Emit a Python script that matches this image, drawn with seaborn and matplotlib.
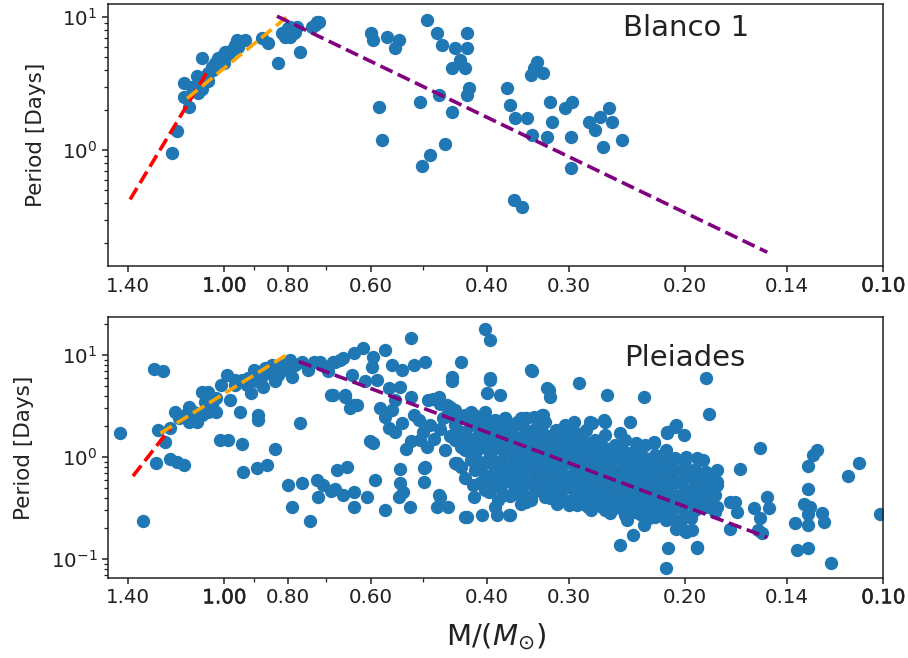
import matplotlib
matplotlib.use("Agg")
import matplotlib.pyplot as plt
import matplotlib.patheffects as pe
import pandas as pd
import seaborn as sns

# tick marks on the mass axis
mass_ticks = [1.40, 1.00, 0.80, 0.60, 0.40, 0.30, 0.20, 0.14, 0.10]
mass_tick_labels = ["1.40", "1.00", "0.80", "0.60", "0.40", "0.30", "0.20", "0.14", "0.10"]

# Blanco 1 rotators (mass, period in days)
blanco_stars = [
    (1.20, 0.95), (1.18, 1.4), (1.13, 2.1), (1.15, 2.5), (1.15, 3.2), (1.10, 3.6),
    (1.08, 2.9), (1.095, 2.67), (1.114, 2.83), (1.057, 3.79), (1.033, 4.5), (1.083, 4.91),
    (1.021, 4.91), (0.998, 5.5), (0.975, 5.67), (0.958, 6.74), (0.930, 6.74), (0.952, 6.0),
    (1.0, 4.5), (1.045, 4.24), (1.070, 3.57), (0.986, 5.2), (1.01, 5.0), (1.04, 4.0),
    (0.965, 6.2), (1.12, 3.0), (1.06, 3.3), (0.878, 6.95), (0.858, 6.37), (0.828, 4.5),
    (0.818, 7.57), (0.795, 7.14), (0.781, 7.79), (0.768, 5.5), (0.777, 8.5), (0.737, 8.5),
    (0.724, 9.27), (0.80, 8.3), (0.809, 7.14), (0.794, 8.5), (0.785, 7.57), (0.728, 8.8),
    (0.719, 9.3),
    (0.60, 7.57), (0.594, 6.74), (0.567, 7.14), (0.544, 6.74), (0.550, 5.84), (0.583, 2.12),
    (0.577, 1.19), (0.493, 9.55), (0.476, 7.57), (0.468, 6.19), (0.428, 7.57), (0.446, 5.84),
    (0.428, 5.84), (0.439, 4.77), (0.451, 4.13), (0.431, 4.13), (0.426, 2.92), (0.428, 2.6),
    (0.473, 2.6), (0.504, 2.31), (0.451, 1.94), (0.462, 1.12), (0.487, 0.917), (0.501, 0.762),
    (0.373, 2.92), (0.368, 2.18), (0.362, 1.73), (0.347, 1.73), (0.341, 1.30), (0.343, 3.67),
    (0.335, 4.63), (0.339, 4.13), (0.328, 3.79), (0.324, 1.26), (0.320, 2.31), (0.318, 1.63),
    (0.304, 2.06), (0.297, 2.31), (0.298, 1.26), (0.298, 0.728), (0.364, 0.42), (0.353, 0.374),
    (0.280, 1.63), (0.274, 1.41), (0.269, 1.78), (0.261, 2.06), (0.258, 1.63), (0.266, 1.06),
    (0.249, 1.19),
]

# Pleiades rotators, high mass part
pleiades_hi = [
    (1.44, 1.71), (1.33, 0.236), (1.28, 7.3), (1.24, 6.9), (1.27, 0.88), (1.26, 1.84),
    (1.23, 1.41), (1.21, 0.95), (1.18, 0.90), (1.15, 0.835), (1.19, 2.78), (1.17, 2.40),
    (1.13, 3.12), (1.13, 2.22), (1.10, 2.22), (1.08, 4.38), (1.07, 3.49), (1.06, 2.78),
    (1.045, 3.24), (1.03, 3.77), (0.99, 6.37), (1.01, 5.08), (0.98, 3.63), (0.963, 5.69),
    (0.94, 5.69), (0.92, 5.9), (0.90, 7.1), (0.88, 5.9), (0.873, 4.9), (0.91, 4.2),
    (0.947, 2.78), (0.888, 2.58), (0.888, 2.31), (1.015, 1.47), (0.986, 1.47), (0.94, 1.34),
    (0.936, 0.707), (0.893, 0.774), (0.862, 0.835), (0.838, 1.19), (0.848, 7.98), (0.819, 7.98),
    (0.828, 6.37), (0.795, 8.94), (0.79, 6.14), (0.768, 2.14), (0.80, 0.531), (0.763, 0.55),
    (0.79, 0.32), (0.741, 0.236), (0.724, 0.595), (0.72, 0.408), (0.708, 0.531), (0.688, 0.465),
    (0.69, 4.06), (0.746, 7.12), (0.763, 8.6), (0.73, 8.6), (0.712, 7.98), (0.695, 6.9),
    (0.68, 8.6), (0.838, 5.5), (0.857, 6.6), (0.819, 6.9), (1.06, 4.38), (1.11, 2.78),
    (1.147, 2.58), (1.08, 2.58), (1.03, 2.78), (0.963, 5.08), (0.925, 5.08), (0.893, 5.5),
    (0.867, 7.4), (0.80, 7.4), (0.78, 7.98), (1.114, 2.40), (1.21, 1.91),
]

# Pleiades, 0.35 - 0.70 Msun
pleiades_mid = [
    (0.52, 14.8), (0.402, 18.0), (0.395, 14.1), (0.683, 8.6), (0.66, 9.3), (0.636, 10.4),
    (0.615, 11.7), (0.594, 9.6), (0.57, 11.2), (0.597, 7.7), (0.557, 7.98), (0.537, 7.1),
    (0.516, 7.98), (0.496, 8.6), (0.438, 8.6), (0.343, 7.1), (0.64, 6.37), (0.611, 5.5),
    (0.587, 5.69), (0.563, 4.73), (0.541, 4.9), (0.52, 3.9), (0.49, 3.63), (0.472, 3.9),
    (0.459, 3.24), (0.451, 6.14), (0.451, 5.5), (0.395, 5.9), (0.40, 4.2), (0.381, 4.06),
    (0.683, 4.06), (0.655, 4.06), (0.636, 3.24), (0.58, 3.0), (0.557, 2.89), (0.55, 3.63),
    (0.57, 2.49), (0.563, 1.91), (0.537, 2.14), (0.507, 2.31), (0.487, 2.06), (0.446, 2.22),
    (0.44, 1.77), (0.428, 1.47), (0.418, 2.58), (0.411, 2.14), (0.404, 1.64), (0.423, 1.09),
    (0.41, 0.90), (0.397, 0.90), (0.601, 1.44), (0.594, 1.36), (0.52, 1.44), (0.504, 1.47),
    (0.493, 1.26), (0.462, 1.17), (0.444, 0.85), (0.375, 2.31), (0.36, 2.22), (0.368, 1.77),
    (0.386, 1.31), (0.373, 1.13), (0.355, 0.97), (0.675, 0.746), (0.651, 0.80), (0.679, 0.49),
    (0.66, 0.424), (0.636, 0.456), (0.636, 0.325), (0.607, 0.408), (0.59, 0.595), (0.57, 0.302),
    (0.541, 0.763), (0.541, 0.55), (0.535, 0.456), (0.544, 0.408), (0.522, 0.325), (0.498, 0.774),
    (0.498, 0.573), (0.472, 0.424), (0.475, 0.32), (0.457, 0.32), (0.428, 0.26), (0.42, 0.531),
    (0.409, 0.55), (0.418, 0.408), (0.406, 0.27), (0.397, 0.456), (0.384, 0.378), (0.386, 0.27),
    (0.368, 0.27), (0.355, 0.531), (0.353, 0.393), (0.411, 0.774), (0.402, 0.666),
    (0.667, 8.94), (0.715, 8.6), (0.644, 3.0), (0.628, 3.2), (0.655, 3.9), (0.55, 1.77),
    (0.496, 0.80), (0.47, 0.41), (0.482, 3.7), (0.47, 3.3), (0.459, 2.6), (0.395, 5.69),
    (0.47, 1.9), (0.455, 1.6), (0.48, 1.5), (0.465, 2.4), (0.50, 1.75), (0.43, 1.25),
    (0.515, 2.6), (0.53, 1.2),
]

# Pleiades, 0.18 - 0.35 Msun outskirts of the main clump
pleiades_low = [
    (0.341, 6.99), (0.322, 4.54), (0.32, 3.9), (0.29, 5.28), (0.263, 4.06), (0.231, 3.9),
    (0.242, 2.22), (0.348, 2.40), (0.33, 2.58), (0.297, 2.06), (0.279, 2.22), (0.264, 2.22),
    (0.251, 1.71), (0.213, 1.77), (0.206, 2.06), (0.201, 1.64), (0.223, 1.41), (0.237, 1.36),
    (0.313, 0.35), (0.30, 0.338), (0.29, 0.364), (0.278, 0.302), (0.267, 0.35), (0.348, 0.364),
    (0.324, 0.49), (0.285, 0.474), (0.251, 0.137), (0.24, 0.172), (0.231, 0.215), (0.212, 0.127),
    (0.214, 0.082), (0.206, 0.199), (0.199, 0.185), (0.192, 0.127), (0.245, 0.27), (0.223, 0.27),
    (0.324, 4.73),
    (0.454, 3.1), (0.423, 2.78), (0.404, 2.49), (0.375, 2.40), (0.355, 2.40), (0.339, 2.49),
    (0.328, 2.58), (0.30, 1.98), (0.295, 2.22), (0.277, 2.14), (0.265, 2.31), (0.213, 1.71),
    (0.207, 1.98), (0.223, 1.36), (0.443, 0.867), (0.431, 0.259), (0.388, 0.325), (0.37, 0.27),
    (0.355, 0.35), (0.343, 0.378), (0.292, 0.338), (0.281, 0.325), (0.275, 0.378), (0.267, 0.325),
    (0.245, 0.241), (0.227, 0.25), (0.214, 0.241), (0.203, 0.241), (0.201, 0.192), (0.195, 0.192),
    (0.185, 0.35), (0.179, 0.57), (0.193, 0.746), (0.199, 1.0), (0.188, 0.935), (0.183, 0.64),
]

# Pleiades, very low mass tail
pleiades_tail = [
    (0.186, 5.9), (0.184, 2.62), (0.154, 1.23), (0.165, 0.763), (0.126, 1.17), (0.128, 1.05),
    (0.13, 0.82), (0.109, 0.88), (0.113, 0.655), (0.13, 0.485), (0.101, 0.274), (0.132, 0.35),
    (0.129, 0.32), (0.13, 0.274), (0.13, 0.215), (0.136, 0.224), (0.124, 0.28), (0.123, 0.231),
    (0.135, 0.122), (0.13, 0.127), (0.12, 0.092), (0.15, 0.408), (0.149, 0.313), (0.157, 0.313),
    (0.154, 0.25), (0.155, 0.192), (0.153, 0.178), (0.167, 0.29), (0.171, 0.199), (0.168, 0.364),
    (0.171, 0.364), (0.179, 0.746), (0.179, 0.531), (0.186, 0.717), (0.192, 0.97), (0.194, 0.717),
    (0.194, 0.456), (0.192, 0.35), (0.186, 0.325), (0.179, 0.325), (0.196, 0.25), (0.192, 0.132),
]

# Pleiades dense clump along the slow sequence: mass -> periods
pleiades_clump = [
    (0.446, [2.89, 2.06, 1.47, 0.87]),
    (0.438, [2.41, 1.76, 1.25, 0.80]),
    (0.431, [2.58, 1.76, 1.17, 0.622]),
    (0.423, [2.06, 1.37, 0.935]),
    (0.416, [2.31, 1.54, 1.05, 0.746]),
    (0.409, [1.84, 1.23, 0.835, 0.56]),
    (0.402, [2.77, 1.93, 1.31, 0.893, 0.474]),
    (0.395, [2.06, 1.47, 1.05, 0.62]),
    (0.388, [2.31, 1.72, 1.23, 0.746, 0.531]),
    (0.381, [2.11, 1.61, 1.23, 0.913, 0.681, 0.496]),
    (0.375, [2.41, 1.84, 1.40, 1.05, 0.78, 0.595, 0.424]),
    (0.368, [1.84, 1.37, 1.02, 0.762, 0.569, 0.414]),
    (0.362, [2.06, 1.57, 1.17, 0.893, 0.666, 0.474]),
    (0.355, [2.11, 1.57, 1.15, 0.854, 0.636, 0.474]),
    (0.349, [2.41, 1.84, 1.31, 0.98, 0.746, 0.556, 0.405]),
    (0.343, [1.68, 1.28, 0.98, 0.729, 0.543, 0.414]),
    (0.337, [1.93, 1.47, 1.12, 0.835, 0.622, 0.474]),
    (0.331, [1.93, 1.44, 1.07, 0.816, 0.622, 0.464]),
    (0.326, [2.21, 1.64, 1.23, 0.935, 0.712, 0.531, 0.405]),
    (0.320, [1.61, 1.20, 0.913, 0.696, 0.519, 0.396]),
    (0.314, [1.84, 1.37, 1.05, 0.798, 0.595, 0.453]),
    (0.309, [1.80, 1.34, 1.02, 0.78, 0.581, 0.433]),
    (0.304, [2.06, 1.54, 1.17, 0.893, 0.666, 0.507, 0.378]),
    (0.298, [1.50, 1.15, 0.873, 0.651, 0.496, 0.370]),
    (0.293, [1.72, 1.31, 1.0, 0.746, 0.569, 0.424]),
    (0.288, [1.61, 1.23, 0.913, 0.696, 0.519, 0.396]),
    (0.283, [1.84, 1.40, 1.05, 0.798, 0.595, 0.453, 0.338]),
    (0.278, [1.28, 0.98, 0.729, 0.556, 0.414, 0.316]),
    (0.274, [1.47, 1.12, 0.835, 0.636, 0.474, 0.361]),
    (0.269, [1.44, 1.07, 0.816, 0.622, 0.464, 0.353]),
    (0.264, [1.64, 1.23, 0.935, 0.712, 0.531, 0.405, 0.302]),
    (0.260, [1.15, 0.873, 0.651, 0.496, 0.370, 0.282]),
    (0.255, [1.31, 1.0, 0.746, 0.569, 0.424, 0.323]),
    (0.251, [1.28, 0.98, 0.729, 0.556, 0.414, 0.316]),
    (0.247, [1.47, 1.12, 0.835, 0.636, 0.474, 0.361, 0.270]),
    (0.242, [1.02, 0.78, 0.581, 0.433, 0.330]),
    (0.238, [1.17, 0.893, 0.666, 0.507, 0.378, 0.288]),
    (0.234, [1.12, 0.854, 0.651, 0.485, 0.370, 0.276]),
    (0.230, [1.31, 0.98, 0.746, 0.569, 0.424, 0.323, 0.241]),
    (0.226, [0.913, 0.696, 0.519, 0.396, 0.295]),
    (0.222, [1.05, 0.798, 0.595, 0.453, 0.338, 0.258]),
    (0.218, [1.02, 0.78, 0.581, 0.433, 0.330]),
    (0.214, [1.17, 0.893, 0.666, 0.507, 0.378, 0.288]),
    (0.211, [0.854, 0.651, 0.485, 0.370, 0.276]),
    (0.207, [0.98, 0.746, 0.569, 0.424, 0.323, 0.241]),
    (0.203, [0.746, 0.556, 0.414, 0.316]),
    (0.200, [0.835, 0.636, 0.474, 0.361, 0.270]),
    (0.196, [0.622, 0.464, 0.353]),
    (0.193, [0.746, 0.531, 0.405, 0.302]),
    (0.190, [0.569, 0.405]),
    (0.186, [0.666, 0.474, 0.338]),
    (0.183, [0.507, 0.361]),
    (0.180, [0.595, 0.424, 0.288]),
]

# fitted relations, drawn between their end points (mass, period)
blanco_fits = [
    ("red", [1.39, 1.056], [0.425, 4.06]),
    ("orange", [1.139, 0.805], [2.45, 10.0]),
    ("purple", [0.832, 0.150], [10.2, 0.170]),
]
pleiades_fits = [
    ("red", [1.376, 1.208], [0.65, 1.91]),
    ("orange", [1.25, 0.805], [1.71, 10.0]),
    ("purple", [0.771, 0.150], [8.63, 0.163]),
]

blanco_df = pd.DataFrame(blanco_stars, columns=["mass", "period"])
clump_rows = [(m, p) for m, periods in pleiades_clump for p in periods]
pleiades_df = pd.DataFrame(pleiades_hi + pleiades_mid + pleiades_low + pleiades_tail + clump_rows,
                           columns=["mass", "period"])

sns.set_theme(style="ticks", rc={
    "axes.edgecolor": "#222222",
    "axes.linewidth": 1.1,
    "xtick.color": "#222222",
    "ytick.color": "#222222",
    "text.color": "#222222",
    "axes.labelcolor": "#222222",
    "xtick.labelsize": 14.3,
    "ytick.labelsize": 14.3,
    "xtick.major.size": 4.2,
    "ytick.major.size": 4.2,
    "xtick.minor.size": 2.8,
    "ytick.minor.size": 2.8,
    "xtick.major.width": 1.1,
    "ytick.major.width": 1.1,
    "xtick.minor.width": 0.9,
    "ytick.minor.width": 0.9,
})
plt.rcParams["font.family"] = ["DejaVu Sans"]

fig, axes = plt.subplots(2, 1, figsize=(9.08, 6.58), dpi=100)
axes[0].set_position([108.3 / 908, 1 - 266 / 658, 775 / 908, 262 / 658])
axes[1].set_position([108.3 / 908, 1 - 577.7 / 658, 775 / 908, 260.4 / 658])

panels = [
    (axes[0], blanco_df, blanco_fits, "Blanco 1", (0.745, 0.908), (0.134, 12.6)),
    (axes[1], pleiades_df, pleiades_fits, "Pleiades", (0.744, 0.844), (0.0656, 23.4)),
]

for ax, df, fits, name, name_pos, ylim in panels:
    sns.scatterplot(data=df, x="mass", y="period", ax=ax, s=92, color="#1f77b4",
                    linewidth=0, legend=False)
    for colour, fx, fy in fits:
        sns.lineplot(x=fx, y=fy, ax=ax, color=colour, linestyle="--", linewidth=2.6,
                     sort=False, estimator=None)
    ax.set_xscale("log")
    ax.set_yscale("log")
    ax.set_xlim(1.5, 0.1)
    ax.set_ylim(*ylim)
    ax.set_xticks(mass_ticks, mass_tick_labels)
    for lab in ax.get_xticklabels():
        if lab.get_text() in ("1.00", "0.10"):
            lab.set_path_effects([pe.withStroke(linewidth=0.35, foreground="#222222")])
    ax.set_ylabel("Period [Days]", fontsize=15.5, labelpad=12)
    ax.set_xlabel("")
    ax.text(name_pos[0], name_pos[1], name, transform=ax.transAxes, fontsize=21,
            ha="center", va="center")

axes[1].set_xlabel(r"M/($M_{\odot}$)", fontsize=21, labelpad=10)

fig.savefig("out.png", dpi=100)
